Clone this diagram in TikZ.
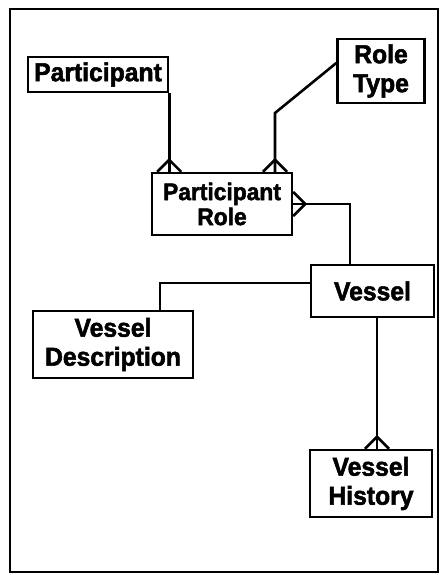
\documentclass[tikz,border=0pt]{standalone}
\usepackage{fontspec}
\setmainfont{Liberation Sans}
\newfontfamily\boxfont{Liberation Sans Bold}[FakeStretch=0.95, FakeBold=2]
\usetikzlibrary{calc}

\tikzset{
  entity/.style={draw, line width=2.4pt, align=center, inner sep=0pt,
    font=\boxfont\fontsize{26}{29}\selectfont},
  rel/.style={line width=2.6pt},
}

\begin{document}
\begin{tikzpicture}[x=1pt, y=-1pt]
  \useasboundingbox (0,0) rectangle (441,575);
  \draw[line width=2pt] (10,9) rectangle (438,572);

  \node [entity, minimum width=140pt, minimum height=35pt] (participant) at (98,74.5) {Participant};
  \node [entity, minimum width=87pt, minimum height=64pt] (roletype) at (381,71) {Role\\Type};
  \node [entity, minimum width=140pt, minimum height=62pt,
         font=\boxfont\fontsize{24}{25}\selectfont] (partrole) at (222,204) {Participant\\Role};
  \node [entity, minimum width=123pt, minimum height=52pt] (vessel) at (372.5,291) {Vessel};
  \node [entity, minimum width=160pt, minimum height=67pt] (vesseldesc) at (113,344.5) {Vessel\\Description};
  \node [entity, minimum width=122pt, minimum height=67pt] (vesselhist) at (371,483.5) {Vessel\\History};

  % Participant -- Participant Role
  \coordinate (a1) at (partrole.north -| participant.south east);
  \draw[rel] (participant.south east) -- (a1);
  \draw[rel] ($(a1)+(-12,0)$) -- ($(a1)+(0,-12)$) -- ($(a1)+(12,0)$);

  % Role Type -- Participant Role
  \coordinate (b1) at ($(roletype.west)+(0,-8)$);
  \coordinate (b2) at (275,113);
  \coordinate (b3) at (partrole.north -| b2);
  \draw[rel] (b1) -- (b2) -- (b3);
  \draw[rel] ($(b3)+(-12,0)$) -- ($(b3)+(0,-12)$) -- ($(b3)+(12,0)$);

  % Vessel -- Participant Role
  \coordinate (c1) at (350,204);
  \coordinate (c2) at (vessel.north -| c1);
  \draw[rel] (partrole.east) -- (c1) -- (c2);
  \draw[rel] ($(partrole.east)+(0,-12)$) -- ($(partrole.east)+(12,0)$) -- ($(partrole.east)+(0,12)$);

  % Vessel -- Vessel Description
  \coordinate (d1) at ($(vessel.west)+(0,-8)$);
  \coordinate (d2) at (160,0);
  \draw[rel] (d1) -- (d1 -| d2) -- (vesseldesc.north -| d2);

  % Vessel -- Vessel History
  \coordinate (e1) at ($(vessel.south)+(4.5,0)$);
  \coordinate (e2) at (vesselhist.north -| e1);
  \draw[rel] (e1) -- (e2);
  \draw[rel] ($(e2)+(-12,0)$) -- ($(e2)+(0,-12)$) -- ($(e2)+(12,0)$);
\end{tikzpicture}
\end{document}
